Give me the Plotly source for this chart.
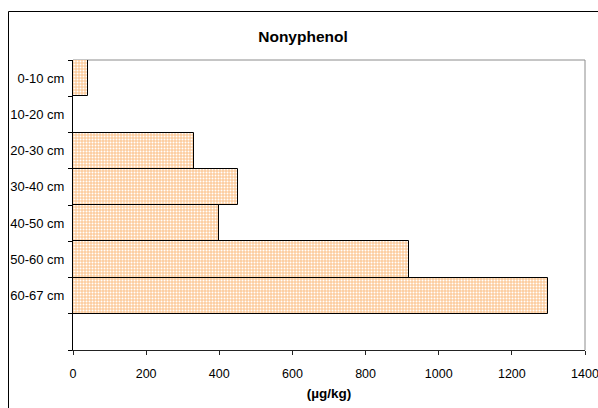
import plotly.graph_objects as go

depths = ["0-10 cm", "10-20 cm", "20-30 cm", "30-40 cm", "40-50 cm", "50-60 cm", "60-67 cm"]
values = [40, 0, 330, 450, 400, 920, 1300]
x_ticks = [0, 200, 400, 600, 800, 1000, 1200, 1400]
n_slots = 8  # one empty slot below the last depth

positions = list(range(len(depths)))

fig = go.Figure()
fig.add_trace(go.Bar(
    x=values,
    y=positions,
    orientation="h",
    width=1.0,
    marker=dict(
        color="#FCCB9C",
        line=dict(color="black", width=1),
        pattern=dict(shape=".", size=3, solidity=0.35,
                     bgcolor="#FCCB9C", fgcolor="white", fillmode="replace"),
    ),
    showlegend=False,
    hoverinfo="x+y",
))

L, R, T, B = 73, 13, 60, 58
W, H = 598, 408
pw, ph = W - L - R, H - T - B

def px2paper_x(px):
    return (px - L) / pw

def px2paper_y(py):
    return (H - B - py) / ph

fig.update_layout(
    width=W, height=H,
    margin=dict(l=L, r=R, t=T, b=B, pad=0, autoexpand=False),
    paper_bgcolor="white",
    plot_bgcolor="white",
    font=dict(family="Arial, Liberation Sans, sans-serif", color="black", size=12),
    title=dict(text="<b>Nonyphenol</b>", x=303 / W, xanchor="center",
               y=1 - 37 / H, yanchor="middle", yref="container", xref="container",
               font=dict(size=15.5, color="black")),
    bargap=0,
    xaxis=dict(
        range=[0, 1400], tickvals=x_ticks, ticktext=[str(v) for v in x_ticks],
        showgrid=False, zeroline=False,
        showline=True, linecolor="#222222", linewidth=1,
        ticks="outside", ticklen=4, tickcolor="#222222",
        tickfont=dict(size=12.5), ticklabelstandoff=8,
        ticklabeloverflow="allow", automargin=False,
        title=dict(text="<b>(µg/kg)</b>", font=dict(size=13.5), standoff=8),
        fixedrange=True,
    ),
    yaxis=dict(
        range=[n_slots - 0.5, -0.5],
        tickvals=positions, ticktext=depths,
        showgrid=False, zeroline=False,
        showline=True, linecolor="black", linewidth=1,
        ticks="outside", ticklen=5, tickcolor="rgba(0,0,0,0)",
        tickfont=dict(size=13), automargin=False,
        minor=dict(tickvals=[i - 0.5 for i in range(n_slots + 1)],
                   ticks="outside", ticklen=4, tickcolor="black", showgrid=False),
        fixedrange=True,
    ),
    shapes=[
        dict(type="line", xref="paper", yref="paper", x0=0, x1=1, y0=1, y1=1,
             line=dict(color="#8c8c8c", width=1), layer="below"),
        dict(type="line", xref="paper", yref="paper", x0=1, x1=1, y0=0, y1=1,
             line=dict(color="#8c8c8c", width=1), layer="below"),
        dict(type="line", xref="paper", yref="paper",
             x0=px2paper_x(8.5), x1=px2paper_x(W + 2), y0=px2paper_y(11.5), y1=px2paper_y(11.5),
             line=dict(color="black", width=1)),
        dict(type="line", xref="paper", yref="paper",
             x0=px2paper_x(8.5), x1=px2paper_x(8.5), y0=px2paper_y(11.5), y1=px2paper_y(H + 2),
             line=dict(color="black", width=1)),
    ],
)

fig.write_html("out.html")
